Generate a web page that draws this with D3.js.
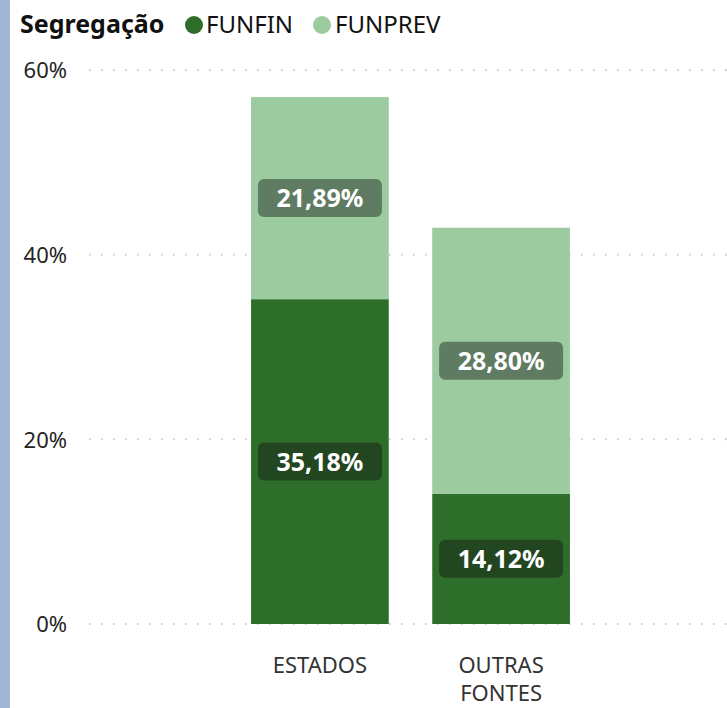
<!DOCTYPE html>
<html>
<head>
<meta charset="utf-8">
<script src="https://cdn.jsdelivr.net/npm/d3@7"></script>
<style>
  html, body { margin: 0; padding: 0; background: #fff; }
  svg { display: block; font-family: "Noto Sans", "Open Sans", sans-serif; }
</style>
</head>
<body>
<svg id="chart" width="727" height="708"></svg>
<script>
// Dados
const categories = ['ESTADOS', 'OUTRAS FONTES'];
const series = ['FUNFIN', 'FUNPREV'];
const funfin = [35.18, 14.12];
const funprev = [21.89, 28.80];
const yTicks = [0, 20, 40, 60];

const colors = { FUNFIN: '#2d6f2a', FUNPREV: '#9ccb9f' };
const labelBg = { FUNFIN: '#22461f', FUNPREV: '#5f7b62' };

const svg = d3.select('#chart');
const W = 727, H = 708;

// faixa azul à esquerda
svg.append('rect').attr('x', 0).attr('y', 0).attr('width', 10).attr('height', H).attr('fill', '#9fb6d7');

const x = d3.scaleBand().domain(categories).range([88, 733]).paddingInner(0.24).paddingOuter(0.9);
const y = d3.scaleLinear().domain([0, 60]).range([624, 70]);

// grade pontilhada
const grid = svg.append('g');
yTicks.forEach(t => {
  grid.append('line')
    .attr('x1', 89).attr('x2', W)
    .attr('y1', y(t)).attr('y2', y(t))
    .attr('stroke', '#c6c6c6').attr('stroke-width', 2)
    .attr('stroke-dasharray', '1.5 10.5');
});

// eixo y
const yAxis = svg.append('g')
  .call(d3.axisLeft(y).tickValues(yTicks).tickFormat(d => d + '%').tickSize(0))
  .attr('transform', 'translate(67,0)');
yAxis.select('.domain').remove();
yAxis.selectAll('text')
  .attr('x', 0).attr('dy', '0.35em')
  .attr('font-size', 22).attr('fill', '#252423')
  .attr('font-family', '"Noto Sans", sans-serif');

// barras empilhadas
const rows = categories.map((c, i) => ({ cat: c, FUNFIN: funfin[i], FUNPREV: funprev[i] }));
const stack = d3.stack().keys(series)(rows);

const gBars = svg.append('g');
stack.forEach(layer => {
  const key = layer.key;
  gBars.selectAll(null).data(layer).enter().append('rect')
    .attr('x', d => x(d.data.cat))
    .attr('width', x.bandwidth())
    .attr('y', d => y(d[1]))
    .attr('height', d => y(d[0]) - y(d[1]))
    .attr('fill', colors[key]);
});

// rótulos de dados
const gLabels = svg.append('g');
stack.forEach(layer => {
  const key = layer.key;
  layer.forEach(d => {
    const cx = x(d.data.cat) + x.bandwidth() / 2;
    const cy = (y(d[0]) + y(d[1])) / 2;
    const txt = d.data[key].toFixed(2).replace('.', ',') + '%';
    const g = gLabels.append('g').attr('transform', `translate(${cx},${cy})`);
    g.append('rect')
      .attr('x', -62).attr('y', -19).attr('width', 124).attr('height', 38)
      .attr('rx', 6).attr('fill', labelBg[key]);
    g.append('text')
      .attr('text-anchor', 'middle').attr('dy', '0.36em')
      .attr('font-size', 25).attr('font-weight', 700).attr('fill', '#fff')
      .text(txt);
  });
});

// eixo x
const gx = svg.append('g');
categories.forEach(c => {
  const words = c.split(' ');
  const t = gx.append('text')
    .attr('x', x(c) + x.bandwidth() / 2)
    .attr('y', 673)
    .attr('text-anchor', 'middle')
    .attr('font-size', 22).attr('fill', '#333');
  words.forEach((w, i) => {
    t.append('tspan').attr('x', x(c) + x.bandwidth() / 2).attr('dy', i ? 28 : 0).text(w);
  });
});

// legenda
const leg = svg.append('g');
leg.append('text').attr('x', 20).attr('y', 33)
  .attr('font-size', 25).attr('font-weight', 700).attr('fill', '#111')
  .text('Segregação');
const legItems = [{ k: 'FUNFIN', cx: 194, tx: 206 }, { k: 'FUNPREV', cx: 322, tx: 335 }];
legItems.forEach(it => {
  leg.append('circle').attr('cx', it.cx).attr('cy', 25).attr('r', 9).attr('fill', colors[it.k]);
  leg.append('text').attr('x', it.tx).attr('y', 33)
    .attr('font-size', 24).attr('fill', '#111').text(it.k);
});
</script>
</body>
</html>
